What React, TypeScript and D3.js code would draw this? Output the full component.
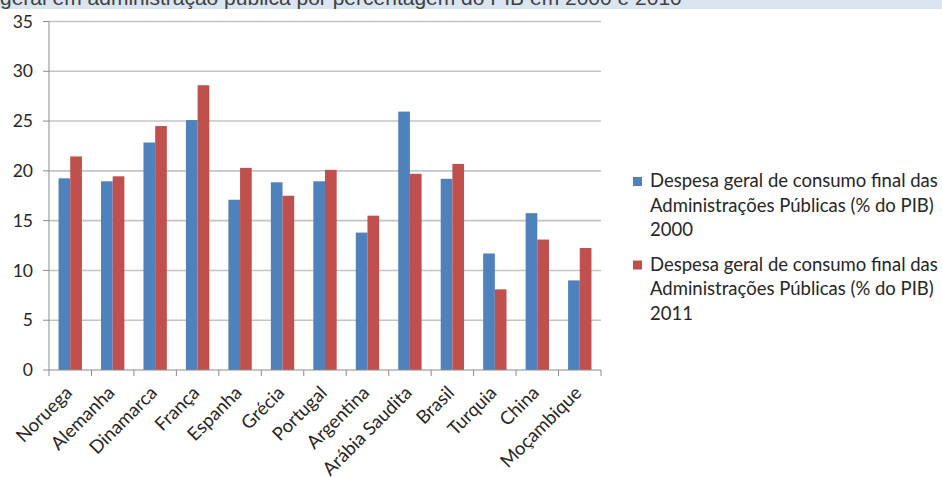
import React, { useEffect, useRef } from "react";
import * as d3 from "d3";

const categories = [
  "Noruega", "Alemanha", "Dinamarca", "França", "Espanha", "Grécia", "Portugal",
  "Argentina", "Arábia Saudita", "Brasil", "Turquia", "China", "Moçambique",
];
const values2000 = [19.25, 18.95, 22.85, 25.1, 17.1, 18.85, 18.95, 13.8, 25.95, 19.2, 11.7, 15.75, 9.0];
const values2011 = [21.45, 19.45, 24.5, 28.6, 20.3, 17.5, 20.1, 15.5, 19.7, 20.7, 8.1, 13.1, 12.25];
const seriesNames = ["2000", "2011"];
const seriesColors = ["#4f81bd", "#c0504d"];
const legendLines = [
  ["Despesa geral de consumo final das", "Administrações Públicas (% do PIB)", "2000"],
  ["Despesa geral de consumo final das", "Administrações Públicas (% do PIB)", "2011"],
];
const yTicks = [0, 5, 10, 15, 20, 25, 30, 35];
const title = "geral em administração pública por percentagem do PIB em 2000 e 2010";

const W = 942;
const H = 477;
const plot = { left: 49, right: 601, top: 21.5, bottom: 370 };
const font = "Lato, 'Open Sans', sans-serif";

export default function App() {
  const ref = useRef<SVGSVGElement | null>(null);

  useEffect(() => {
    document.body.style.margin = "0";
    const svg = d3.select(ref.current);
    svg.selectAll("*").remove();

    // title strip, clipped at the top edge
    svg.append("rect").attr("x", 0).attr("y", 0).attr("width", W).attr("height", 9).attr("fill", "#dbe5f1");
    svg.append("text")
      .attr("x", 0).attr("y", 5)
      .attr("font-family", "'Liberation Sans', Arial, sans-serif")
      .attr("font-size", 21)
      .attr("fill", "#404040")
      .text(title);

    const x = d3.scaleBand<string>().domain(categories).range([plot.left, plot.right]).padding(0);
    const inner = d3.scaleBand<string>().domain(seriesNames).range([0, x.bandwidth() * 0.55]).padding(0);
    const innerOffset = (x.bandwidth() - x.bandwidth() * 0.55) / 2;
    const y = d3.scaleLinear().domain([0, 35]).range([plot.bottom, plot.top]);

    // gridlines
    svg.append("g").selectAll("line").data(yTicks.filter((t) => t > 0)).join("line")
      .attr("x1", plot.left).attr("x2", plot.right)
      .attr("y1", (d) => y(d)).attr("y2", (d) => y(d))
      .attr("stroke", "#c4c4c4").attr("stroke-width", 1.6);

    // bars
    const rows = categories.map((c, i) => ({ c, vals: [values2000[i], values2011[i]] }));
    const g = svg.append("g").selectAll("g").data(rows).join("g")
      .attr("transform", (d) => `translate(${(x(d.c) as number) + innerOffset},0)`);
    g.selectAll("rect").data((d) => d.vals.map((v, k) => ({ v, k }))).join("rect")
      .attr("x", (d) => inner(seriesNames[d.k]) as number)
      .attr("width", inner.bandwidth())
      .attr("y", (d) => y(d.v))
      .attr("height", (d) => y(0) - y(d.v))
      .attr("fill", (d) => seriesColors[d.k]);

    // axes
    const axisColor = "#8c8c8c";
    svg.append("line").attr("x1", plot.left).attr("x2", plot.left).attr("y1", plot.top).attr("y2", plot.bottom)
      .attr("stroke", axisColor).attr("stroke-width", 1);
    svg.append("line").attr("x1", plot.left).attr("x2", plot.right).attr("y1", plot.bottom).attr("y2", plot.bottom)
      .attr("stroke", axisColor).attr("stroke-width", 1.2);
    svg.append("g").selectAll("line").data(yTicks).join("line")
      .attr("x1", plot.left - 6).attr("x2", plot.left)
      .attr("y1", (d) => y(d)).attr("y2", (d) => y(d))
      .attr("stroke", axisColor);
    const xTickPos = categories.map((c) => x(c) as number).concat([plot.right]);
    svg.append("g").selectAll("line").data(xTickPos).join("line")
      .attr("x1", (d) => d).attr("x2", (d) => d)
      .attr("y1", plot.bottom).attr("y2", plot.bottom + 6)
      .attr("stroke", axisColor);

    svg.append("g").selectAll("text").data(yTicks).join("text")
      .attr("x", 33).attr("y", (d) => y(d)).attr("dy", "0.35em")
      .attr("text-anchor", "end")
      .attr("font-family", font).attr("font-size", 17.5).attr("fill", "#262626")
      .text((d) => String(d));

    svg.append("g").selectAll("text").data(categories).join("text")
      .attr("text-anchor", "end")
      .attr("transform", (d) => {
        const cx = (x(d) as number) + x.bandwidth() / 2 + 3;
        return `translate(${cx},${plot.bottom + 24}) rotate(-45)`;
      })
      .attr("font-family", font).attr("font-size", 18.5).attr("fill", "#262626")
      .text((d) => d);

    // legend
    const lg = svg.append("g");
    legendLines.forEach((lines, k) => {
      const top = 187 + k * 83.5;
      lg.append("rect").attr("x", 633).attr("y", top - 10).attr("width", 9).attr("height", 9).attr("fill", seriesColors[k]);
      lines.forEach((ln, j) => {
        lg.append("text").attr("x", 650).attr("y", top + j * 24.5)
          .attr("font-family", font).attr("font-size", 18.5).attr("fill", "#262626")
          .text(ln);
      });
    });
  }, []);

  return <svg ref={ref} width={W} height={H} style={{ display: "block", background: "#fff" }} />;
}
